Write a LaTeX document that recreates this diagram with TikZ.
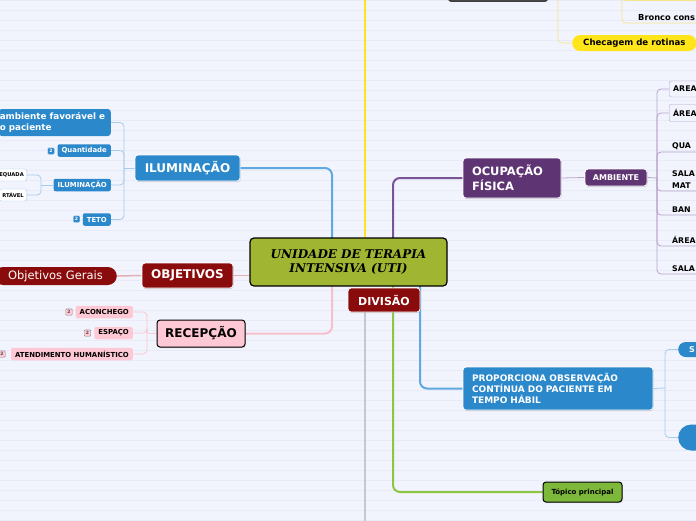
\documentclass[tikz,border=0pt]{standalone}
\usepackage{fontspec}
\setmainfont{DejaVu Sans}
\newfontfamily\titlefont{DejaVu Serif}
\usetikzlibrary{shadows,backgrounds}

\definecolor{bgpaper}{HTML}{F2F4FD}
\definecolor{bgline}{HTML}{E8EBF7}
\definecolor{rootgreen}{HTML}{A0B531}
\definecolor{topicblue}{HTML}{2B88CB}
\definecolor{topicred}{HTML}{8A0B0B}
\definecolor{topicpurple}{HTML}{5F3473}
\definecolor{topicpink}{HTML}{FFC8D5}
\definecolor{topicgreen}{HTML}{7DB83A}
\definecolor{topicyellow}{HTML}{FFE51A}
\definecolor{lineblue}{HTML}{5FA8E0}
\definecolor{linepink}{HTML}{F5C0CC}
\definecolor{linered}{HTML}{E2B0B4}
\definecolor{linepurple}{HTML}{7A5596}
\definecolor{linegreen}{HTML}{8DC63F}
\definecolor{lineyellow}{HTML}{FFE21A}
\definecolor{linegrey}{HTML}{C8C8CC}
\definecolor{twigblue}{HTML}{A6CCEC}
\definecolor{twigpurple}{HTML}{B6A2C9}
\definecolor{twigpink}{HTML}{F7C6D0}
\definecolor{twigyellow}{HTML}{F4E48A}

\begin{document}
\begin{tikzpicture}[x=1pt, y=-1pt,
    topic/.style={rounded corners=3pt, draw=white, line width=0.8pt, text=white, inner sep=0pt,
        font=\bfseries\fontsize{12}{14}\selectfont,
        drop shadow={shadow xshift=0.6pt, shadow yshift=-1pt, opacity=0.35}},
    sub/.style={rounded corners=2pt, inner xsep=4pt, inner ysep=0pt, minimum height=12.5,
        font=\bfseries\fontsize{6.9}{8}\selectfont, anchor=east},
    badge/.style={minimum size=6.5, inner sep=0pt, rounded corners=1pt,
        font=\bfseries\fontsize{4.5}{5}\selectfont},
    leaf/.style={anchor=south west, inner xsep=3pt, inner ysep=2pt, text width=36, align=left,
        font=\bfseries\fontsize{7.8}{12}\selectfont},
    branch/.style={line width=2pt, rounded corners=7pt},
    twig/.style={line width=0.8pt, rounded corners=4pt}]

    \useasboundingbox (0,0) rectangle (696,520);
    % paper
    \begin{scope}[on background layer]
        \fill[bgpaper] (0,0) rectangle (696,520);
        \foreach \y in {0,10,...,520}
            \draw[bgline, line width=1pt] (0,\y) -- (696,\y);
    \end{scope}

    % root
    \node[rounded corners=4pt, draw=black, line width=1.2pt, fill=rootgreen, minimum width=197, minimum height=48,
        align=center, font=\titlefont\bfseries\itshape\fontsize{12}{14.5}\selectfont] (uti) at (348.5,262) {UNIDADE DE TERAPIA\\INTENSIVA (UTI)};

    % left side
    \node[topic, fill=topicblue, minimum width=105, minimum height=26] (ilum) at (187.5,168) {ILUMINAÇÃO};
    \node[topic, fill=topicred, minimum width=91, minimum height=25] (obj) at (187.5,275.5) {OBJETIVOS};
    \node[topic, fill=topicpink, draw=black, line width=1pt, text=black, minimum width=88, minimum height=27] (recep) at (201,333.5) {RECEPÇÃO};

    \node[fill=topicred, rounded corners=9pt, text=white, anchor=east, inner xsep=14pt, inner ysep=0pt, minimum height=18,
        font=\fontsize{11.5}{13}\selectfont] (objg) at (117,276) {Objetivos Gerais};

    \node[fill=topicblue, rounded corners=3pt, text=white, anchor=east, inner xsep=1pt, text width=110, align=left,
        minimum height=27, font=\bfseries\fontsize{8.8}{11}\selectfont] (amfav) at (111,122.5) {ambiente favorável e\\o paciente};
    \node[sub, fill=topicblue, text=white] (quant) at (111,150.5) {Quantidade};
    \node[sub, fill=topicblue, text=white] (ilums) at (111,185) {ILUMINAÇÃO};
    \node[sub, fill=topicblue, text=white] (teto) at (111,219.5) {TETO};
    \node[badge, fill=topicblue, draw=twigblue, text=white] (bquant) at (51,151) {2};
    \node[badge, fill=topicblue, draw=twigblue, text=white] (bteto) at (76.5,219) {2};
    \node[sub, fill=white, draw=twigblue, inner xsep=3pt, minimum height=12, font=\bfseries\fontsize{5.2}{6}\selectfont] (adeq) at (27,175) {EQUADA};
    \node[sub, fill=white, draw=twigblue, inner xsep=3pt, minimum height=12, font=\bfseries\fontsize{5.2}{6}\selectfont] (conf) at (27,195) {RTÁVEL};

    \node[sub, fill=topicpink] (aconch) at (133,312) {ACONCHEGO};
    \node[sub, fill=topicpink] (espaco) at (133,333) {ESPAÇO};
    \node[sub, fill=topicpink] (atend) at (133,354) {ATENDIMENTO HUMANÍSTICO};
    \node[badge, fill=topicpink, draw=black!45, text=black!70] (baconch) at (69,312) {2};
    \node[badge, fill=topicpink, draw=black!45, text=black!70] (bespaco) at (87.5,333) {2};
    \node[badge, fill=topicpink, draw=black!45, text=black!70] (batend) at (2,354) {2};

    % right side
    \node[fill=black!72, draw=black, rounded corners=2pt, minimum width=99, minimum height=8, anchor=south] (topnode) at (498,1.5) {};
    \node[fill=topicyellow, rounded corners=8pt, anchor=west, inner xsep=11pt, inner ysep=0pt, minimum height=16,
        font=\bfseries\fontsize{8.6}{10}\selectfont] (checa) at (572,43) {Checagem de rotinas};
    \node[leaf, text width=60, inner xsep=1pt, font=\bfseries\fontsize{8.3}{10}\selectfont] (bronco) at (637,23) {Bronco cons};

    \node[topic, fill=topicred, minimum width=72, minimum height=24, font=\bfseries\fontsize{11}{13}\selectfont] (divisao) at (384,300) {DIVISÃO};

    \node[topic, fill=topicpurple, minimum width=98, minimum height=40, inner xsep=9pt, text width=80, align=left,
        font=\bfseries\fontsize{11.5}{15}\selectfont] (ocup) at (512,178) {OCUPAÇÃO\\FÍSICA};
    \node[topic, fill=topicpurple, minimum width=62, minimum height=17, font=\bfseries\fontsize{8}{9}\selectfont] (amb) at (616,177.5) {AMBIENTE};

    \node[sub, anchor=west, fill=bgpaper, draw=twigpurple, inner xsep=4pt, text width=40, align=left, minimum height=16,
        font=\bfseries\fontsize{7.8}{9}\selectfont] (areaa) at (669,89) {AREA};
    \node[sub, anchor=west, fill=bgpaper, draw=twigpurple, inner xsep=4pt, text width=40, align=left, minimum height=17,
        font=\bfseries\fontsize{7.8}{9}\selectfont] (areab) at (669,113) {ÁREA};
    \node[leaf] (quarto) at (669,152) {QUA};
    \node[leaf] (salamat) at (669,191) {SALA\\MAT};
    \node[leaf] (banh) at (669,215) {BAN};
    \node[leaf] (areac) at (669,246) {ÁREA};
    \node[leaf] (salab) at (669,274) {SALA};

    \node[topic, fill=topicblue, minimum width=190, minimum height=43, inner xsep=9pt, text width=172, align=left,
        font=\bfseries\fontsize{9}{11}\selectfont] (prop) at (558,388.5) {PROPORCIONA OBSERVAÇÃO\\CONTÍNUA DO PACIENTE EM\\TEMPO HÁBIL};
    \node[fill=topicblue, rounded corners=7.5pt, anchor=west, inner xsep=11pt, inner ysep=0pt, minimum height=15,
        text=white, font=\bfseries\fontsize{8}{9}\selectfont] (sobs) at (678,349.5) {S};
    \node[fill=topicblue, rounded corners=13pt, anchor=west, minimum width=40, minimum height=26] (blob) at (678,437.5) {};

    \node[topic, fill=topicgreen, draw=black, line width=1pt, text=black, minimum width=79, minimum height=20,
        font=\bfseries\fontsize{7}{8}\selectfont] (topico) at (582.5,492) {Tópico principal};

    % hubs and ends
    \coordinate (hubI) at (124,168);
    \coordinate (hubIs) at (41,185);
    \coordinate (hubR) at (147,333);
    \coordinate (hubA) at (657,178);
    \coordinate (hubP) at (665,388);
    \coordinate (hubC) at (558,-12);
    \coordinate (hubB) at (622,-12);
    \coordinate (prevleaf) at (630,0.5);
    \coordinate (topY) at (365,-5);
    \coordinate (botG) at (365,525);
    \coordinate (cI) at (332,240);
    \coordinate (cR) at (332,284);
    \coordinate (cP) at (393,240);
    \coordinate (cG) at (393,284);
    \coordinate (cB) at (420,284);

    % connectors
    \begin{scope}[on background layer]
        \draw[branch, lineblue] (ilum.east) -| (cI);
        \draw[branch, linepink] (cR) |- (recep.east);
        \draw[branch, linered, line width=1.5pt] (obj.east) -- (obj.east -| uti.west);
        \draw[branch, linered, line width=1.5pt] (objg.east) -- (obj.west);
        \draw[branch, lineyellow] (topY) -- (topY |- uti.north);
        \draw[branch, linepurple] (ocup.west) -| (cP);
        \draw[branch, linegreen] (topico.west) -| (cG);
        \draw[branch, lineblue] (prop.west) -| (cB);
        \draw[branch, linegrey, line width=2.5pt] (divisao.south -| botG) -- (botG);

        \draw[twig, twigblue] (ilum.west) -- (hubI);
        \draw[twig, twigblue] (hubI) |- (amfav.east);
        \draw[twig, twigblue] (hubI) |- (quant.east);
        \draw[twig, twigblue] (hubI) |- (ilums.east);
        \draw[twig, twigblue] (hubI) |- (teto.east);
        \draw[twig, twigblue] (ilums.west) -- (hubIs);
        \draw[twig, twigblue] (hubIs) |- (adeq.east);
        \draw[twig, twigblue] (hubIs) |- (conf.east);

        \draw[twig, twigpink] (recep.west) -- (hubR);
        \draw[twig, twigpink] (hubR) |- (aconch.east);
        \draw[twig, twigpink] (hubR) |- (espaco.east);
        \draw[twig, twigpink] (hubR) |- (atend.east);

        \draw[twig, twigyellow] (hubC) |- (checa.west);
        \draw[twig, twigyellow] (hubB) |- (bronco.south west) -- (bronco.south east);
        \draw[twig, twigyellow] (hubB) |- (prevleaf) -- ++(72,0);

        \draw[twig, twigpurple] (ocup.east) -- (amb.west);
        \draw[twig, twigpurple] (amb.east) -- (hubA);
        \draw[twig, twigpurple] (hubA) |- (areaa.west);
        \draw[twig, twigpurple] (hubA) |- (areab.west);
        \foreach \leafname in {quarto,salamat,banh,areac,salab}
            \draw[twig, twigpurple] (hubA) |- (\leafname.south west) -- (\leafname.south east);

        \draw[twig, twigblue] (prop.east) -- (hubP);
        \draw[twig, twigblue] (hubP) |- (sobs.west);
        \draw[twig, twigblue] (hubP) |- (blob.west);
    \end{scope}
\end{tikzpicture}
\end{document}
